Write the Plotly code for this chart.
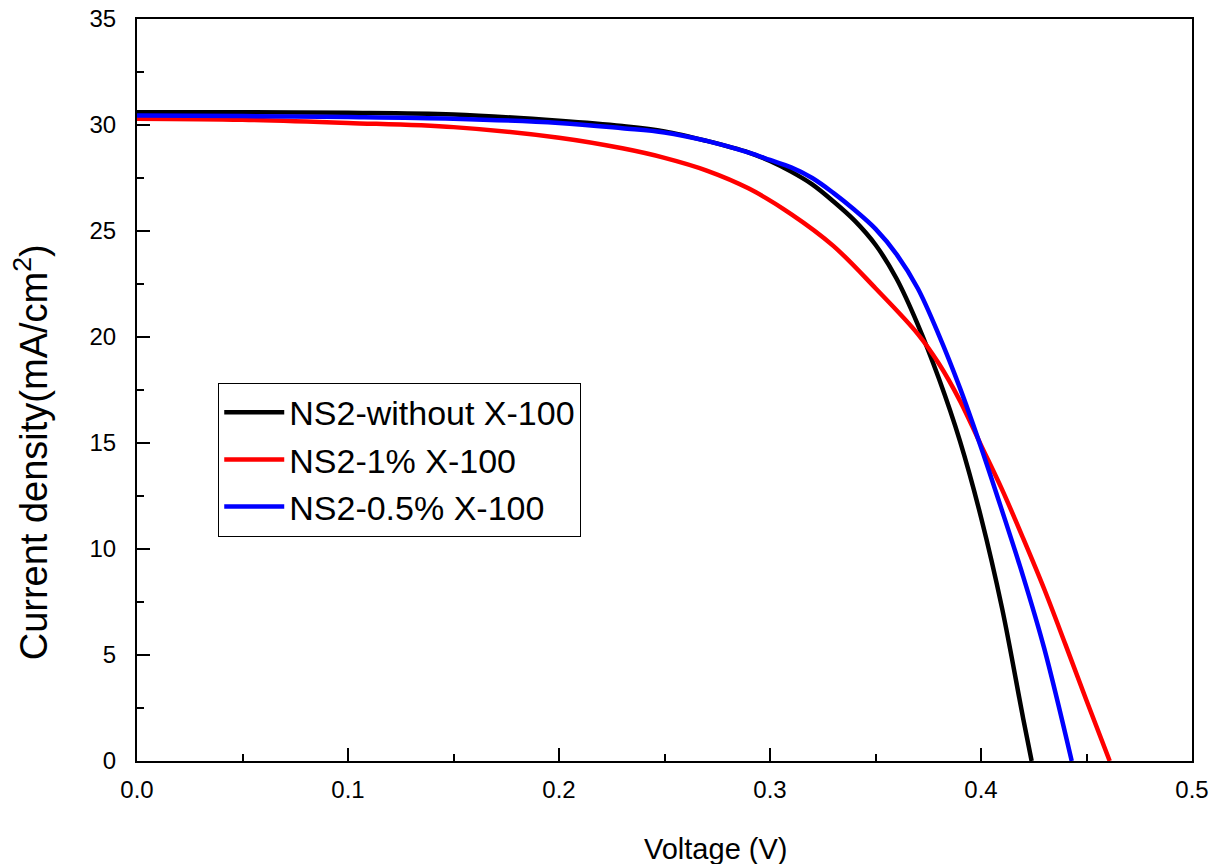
import plotly.graph_objects as go

# J-V curves (voltage in V, current density in mA/cm2)
v_without = [0.0, 0.05, 0.10, 0.15, 0.20, 0.23, 0.25, 0.27, 0.29, 0.30, 0.31, 0.32,
             0.33, 0.34, 0.35, 0.36, 0.37, 0.38, 0.39, 0.40, 0.41, 0.42, 0.424]
j_without = [30.6, 30.6, 30.58, 30.5, 30.2, 29.95, 29.7, 29.25, 28.7, 28.3, 27.8, 27.2,
             26.4, 25.5, 24.35, 22.75, 20.6, 18.05, 15.1, 11.5, 7.2, 2.0, 0.0]

v_1pct = [0.0, 0.05, 0.10, 0.15, 0.20, 0.23, 0.25, 0.27, 0.29, 0.31, 0.33, 0.35,
          0.37, 0.38, 0.39, 0.40, 0.41, 0.42, 0.43, 0.44, 0.45, 0.461]
j_1pct = [30.3, 30.25, 30.1, 29.9, 29.4, 28.9, 28.45, 27.85, 27.0, 25.8, 24.3, 22.3,
          20.15, 18.75, 17.0, 14.9, 12.8, 10.5, 8.1, 5.5, 2.85, 0.0]

v_05pct = [0.0, 0.05, 0.10, 0.15, 0.20, 0.23, 0.25, 0.27, 0.29, 0.30, 0.31, 0.32,
           0.33, 0.34, 0.35, 0.36, 0.37, 0.38, 0.39, 0.40, 0.41, 0.42, 0.43, 0.443]
j_05pct = [30.45, 30.42, 30.38, 30.3, 30.1, 29.85, 29.65, 29.25, 28.7, 28.35, 28.0, 27.5,
           26.8, 26.0, 25.1, 23.9, 22.3, 20.1, 17.6, 14.8, 11.8, 8.7, 5.3, 0.0]

names = ["NS2-without X-100", "NS2-1% X-100", "NS2-0.5% X-100"]
colors = ["black", "red", "blue"]

FONT = "Arial, Liberation Sans, sans-serif"

fig = go.Figure()
for v, j, name, color in zip([v_without, v_1pct, v_05pct],
                             [j_without, j_1pct, j_05pct], names, colors):
    fig.add_trace(go.Scatter(
        x=v, y=j, mode="lines", name=name, legendgroup=name,
        line=dict(color=color, width=4.5, shape="spline", smoothing=1.0),
    ))

axis_style = dict(
    showline=True, linecolor="black", linewidth=2, mirror=True,
    showgrid=False, zeroline=False, automargin=False,
    ticks="inside", ticklen=13, tickwidth=2, tickcolor="black",
    tickfont=dict(family=FONT, size=24, color="black"),
    ticklabeloverflow="allow",
)

fig.update_xaxes(range=[0, 0.5], dtick=0.1, tickformat=".1f",
                 ticklabelstandoff=6,
                 minor=dict(ticks="inside", ticklen=7, tickwidth=2,
                            tickcolor="black", dtick=0.05),
                 **axis_style)
fig.update_yaxes(range=[0, 35], dtick=5, ticklabelstandoff=14,
                 minor=dict(ticks="inside", ticklen=7, tickwidth=2,
                            tickcolor="black", dtick=2.5),
                 **axis_style)

fig.add_annotation(text="Voltage (V)", xref="paper", yref="paper",
                   x=0.548, y=-0.118, xanchor="center", yanchor="middle",
                   showarrow=False,
                   font=dict(family=FONT, size=29, color="black"))
fig.add_annotation(text="Current density(mA/cm<sup>2</sup>)", xref="paper", yref="paper",
                   x=-0.1005, y=0.416, xanchor="center", yanchor="middle",
                   textangle=-90, showarrow=False,
                   font=dict(family=FONT, size=38, color="black"))

fig.update_layout(
    width=1221, height=864,
    margin=dict(l=137, r=29, t=19, b=103),
    paper_bgcolor="white", plot_bgcolor="white",
    legend=dict(x=0.077, y=0.51, xanchor="left", yanchor="top",
                bgcolor="white", bordercolor="black", borderwidth=1,
                font=dict(family=FONT, size=34, color="black"),
                tracegroupgap=0, itemwidth=60),
)

# drop the default 8px page margin so the figure fills the window
fig.write_html("out.html", config={"displayModeBar": False},
               post_script="document.body.style.margin = '0';")
